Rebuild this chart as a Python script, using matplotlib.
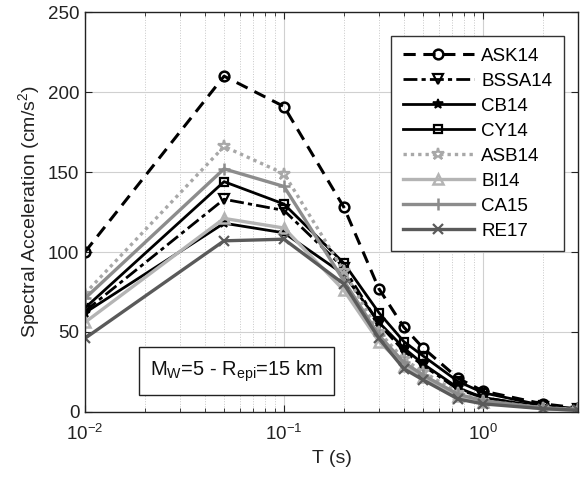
import matplotlib
matplotlib.use("Agg")
import matplotlib.pyplot as plt
import numpy as np

plt.rcParams['font.family'] = ['Liberation Sans', 'DejaVu Sans']
plt.rcParams['mathtext.fontset'] = 'custom'
plt.rcParams['mathtext.rm'] = 'Liberation Sans'
plt.rcParams['mathtext.it'] = 'Liberation Sans'

periods = [0.01, 0.05, 0.1, 0.2, 0.3, 0.4, 0.5, 0.75, 1.0, 2.0, 3.0]

ask14 = [100, 210, 191, 128, 77, 53, 40, 21, 13, 5, 2.5]
bssa14 = [63, 133, 126, 90, 55, 38, 29, 14, 9, 3, 1.5]
cb14 = [62, 118, 112, 86, 56, 40, 30, 15, 9, 3, 1.5]
cy14 = [65, 144, 130, 93, 62, 44, 35, 19, 12, 4, 2]
asb14 = [74, 166, 149, 88, 50, 33, 25, 12, 7, 2.5, 1.5]
bi14 = [56, 121, 115, 76, 44, 29, 22, 10, 6, 2, 1]
ca15 = [71, 152, 141, 82, 48, 31, 23, 11, 7, 2.5, 1.5]
re17 = [46, 107, 108, 80, 46, 27, 20, 8, 5, 2, 1]

labels = ['ASK14', 'BSSA14', 'CB14', 'CY14', 'ASB14', 'BI14', 'CA15', 'RE17']
series = [ask14, bssa14, cb14, cy14, asb14, bi14, ca15, re17]
styles = [
    dict(color='black', ls=(0, (4, 2.5)), marker='o', mfc='none', lw=2.2, ms=7, mew=1.8),
    dict(color='black', ls=(0, (5, 1.5, 1.5, 1.5)), marker='v', mfc='none', lw=2.0, ms=7, mew=1.6),
    dict(color='black', ls='-', marker='*', mfc='black', lw=2.0, ms=7, mew=1.2),
    dict(color='black', ls='-', marker='s', mfc='none', lw=2.0, ms=6, mew=1.6),
    dict(color='#a8a8a8', ls=(0, (1, 1.2)), marker='*', mfc='none', lw=2.4, ms=9, mew=1.6),
    dict(color='#b4b4b4', ls='-', marker='^', mfc='none', lw=2.4, ms=7, mew=1.8),
    dict(color='#8c8c8c', ls='-', marker='+', mfc='none', lw=2.4, ms=9, mew=1.8),
    dict(color='#5a5a5a', ls='-', marker='x', mfc='none', lw=2.4, ms=7, mew=1.6),
]

fig = plt.figure(figsize=(5.82, 4.88), dpi=100)
ax = fig.add_axes([0.146, 0.156, 0.847, 0.819])

for lab, vals, st in zip(labels, series, styles):
    ax.plot(periods, vals, label=lab, **st)

ax.set_xscale('log')
ax.set_xlim(0.01, 3)
ax.set_ylim(0, 250)
ax.set_yticks([0, 50, 100, 150, 200, 250])
ax.grid(True, which='major', color='#d0d0d0', lw=0.8, ls='-')
ax.grid(True, which='minor', axis='x', color='#c8c8c8', lw=0.7, ls=':')
ax.set_axisbelow(True)
ax.tick_params(which='both', direction='in', top=True, right=True, labelsize=13.5, colors='#222222')
ax.tick_params(axis='x', which='major', pad=9)
ax.tick_params(axis='y', which='major', pad=4)
ax.tick_params(which='major', length=5)
ax.tick_params(which='minor', length=3)
for sp in ax.spines.values():
    sp.set_color('#222222')
    sp.set_linewidth(1.0)

ax.set_xlabel('T (s)', fontsize=14, color='#222222', labelpad=4)
ax.set_ylabel('Spectral Acceleration (cm/s$^2$)', fontsize=14, color='#222222', labelpad=4)

leg = ax.legend(loc='upper right', bbox_to_anchor=(0.99, 0.963), fontsize=13.5,
                frameon=True, fancybox=False, edgecolor='#333333', framealpha=1,
                handlelength=3.8, labelspacing=0.42, borderpad=0.6, handletextpad=0.4)
leg.get_frame().set_linewidth(1.0)

ax.text(0.058, 25.5, 'M$_W$=5 - R$_{epi}$=15 km', fontsize=14.5, ha='center', va='center',
        color='#111111',
        bbox=dict(boxstyle='square,pad=0.55', fc='white', ec='#222222', lw=1.0))

fig.savefig('out.png', dpi=100)
